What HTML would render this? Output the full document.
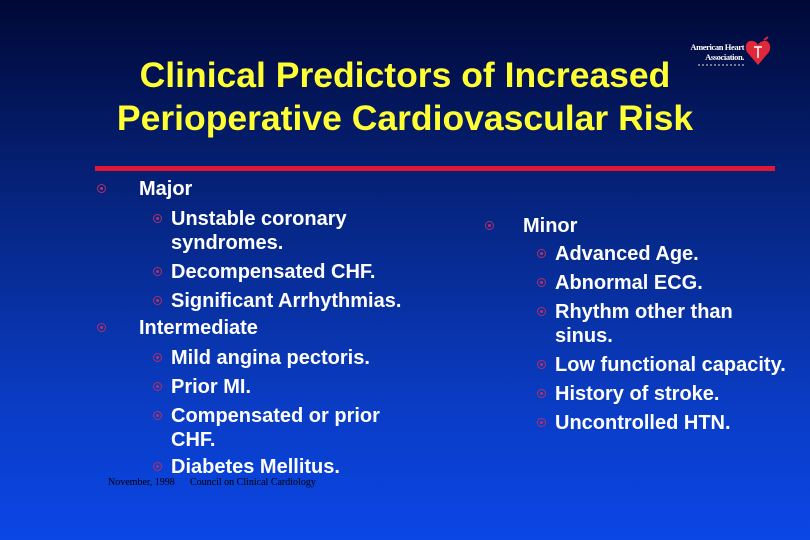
<!DOCTYPE html>
<html><head><meta charset="utf-8"><style>
body{margin:0}
#s{position:relative;width:810px;height:540px;overflow:hidden;background:linear-gradient(180deg,#000836 0%,#062684 40%,#0a3cc4 75%,#0b46e6 100%);font-family:"Liberation Sans",sans-serif;}
.t{position:absolute;left:0;width:810px;text-align:center;color:#ffff33;font-weight:bold;font-size:35.5px;line-height:40px;}
.l{position:absolute;color:#fff;font-weight:bold;font-size:20px;line-height:24px;white-space:nowrap}
.b{position:absolute;width:9px;height:9px;border-radius:50%;border:1.5px solid #b0306a;box-sizing:border-box}
.b::after{content:"";position:absolute;left:2px;top:2px;width:2.5px;height:2.5px;border-radius:50%;background:#b0306a}
.f{position:absolute;top:477px;color:#000;font-family:"Liberation Serif",serif;font-size:10px}
</style></head><body>
<div id="s">
<div class="t" style="top:55px">Clinical Predictors of Increased</div>
<div class="t" style="top:98px">Perioperative Cardiovascular Risk</div>
<div style="position:absolute;left:674px;top:36px;width:100px;height:40px">
<div style="position:absolute;left:0;top:6px;color:#fff;font-family:'Liberation Serif',serif;font-weight:bold;font-size:8.5px;line-height:10px;text-align:right;width:70px;letter-spacing:-0.4px;white-space:nowrap">American Heart<br>Association.</div>
<div style="position:absolute;left:24px;top:28px;width:46px;height:6px;border-top:2px dotted #bbb;opacity:.6"></div>
<svg style="position:absolute;left:71px;top:0" width="26" height="30" viewBox="0 0 26 30"><path d="M13 29 L2 16 C-1 10 2 4 7 5 C10 5 12 7 13 9 C14 7 16 5 19 5 C24 4 27 10 24 16 Z" fill="#e0283a"/><path d="M13 11v11M9 11h8" stroke="#fff" stroke-width="1.5"/><path d="M19 4 l4 -3" stroke="#e0283a" stroke-width="2"/></svg>
</div>
<div style="position:absolute;left:95px;top:166px;width:680px;height:5px;background:#e01838"></div>

<div class="b" style="left:97px;top:184px"></div>
<div class="l" style="left:139px;top:177px">Major</div>
<div class="b" style="left:153px;top:214px"></div>
<div class="l" style="left:171px;top:207px">Unstable coronary</div>
<div class="l" style="left:171px;top:231px">syndromes.</div>
<div class="b" style="left:153px;top:267px"></div>
<div class="l" style="left:171px;top:260px">Decompensated CHF.</div>
<div class="b" style="left:153px;top:296px"></div>
<div class="l" style="left:171px;top:289px">Significant Arrhythmias.</div>
<div class="b" style="left:97px;top:323px"></div>
<div class="l" style="left:139px;top:316px">Intermediate</div>
<div class="b" style="left:153px;top:353px"></div>
<div class="l" style="left:171px;top:346px">Mild angina pectoris.</div>
<div class="b" style="left:153px;top:382px"></div>
<div class="l" style="left:171px;top:375px">Prior MI.</div>
<div class="b" style="left:153px;top:411px"></div>
<div class="l" style="left:171px;top:404px">Compensated or prior</div>
<div class="l" style="left:171px;top:428px">CHF.</div>
<div class="b" style="left:153px;top:462px"></div>
<div class="l" style="left:171px;top:455px">Diabetes Mellitus.</div>

<div class="b" style="left:485px;top:221px"></div>
<div class="l" style="left:523px;top:214px">Minor</div>
<div class="b" style="left:537px;top:249px"></div>
<div class="l" style="left:555px;top:242px">Advanced Age.</div>
<div class="b" style="left:537px;top:278px"></div>
<div class="l" style="left:555px;top:271px">Abnormal ECG.</div>
<div class="b" style="left:537px;top:307px"></div>
<div class="l" style="left:555px;top:300px">Rhythm other than</div>
<div class="l" style="left:555px;top:324px">sinus.</div>
<div class="b" style="left:537px;top:360px"></div>
<div class="l" style="left:555px;top:353px">Low functional capacity.</div>
<div class="b" style="left:537px;top:389px"></div>
<div class="l" style="left:555px;top:382px">History of stroke.</div>
<div class="b" style="left:537px;top:418px"></div>
<div class="l" style="left:555px;top:411px">Uncontrolled HTN.</div>

<div class="f" style="left:108px">November, 1998</div>
<div class="f" style="left:190px">Council on Clinical Cardiology</div>
</div>
</body></html>
